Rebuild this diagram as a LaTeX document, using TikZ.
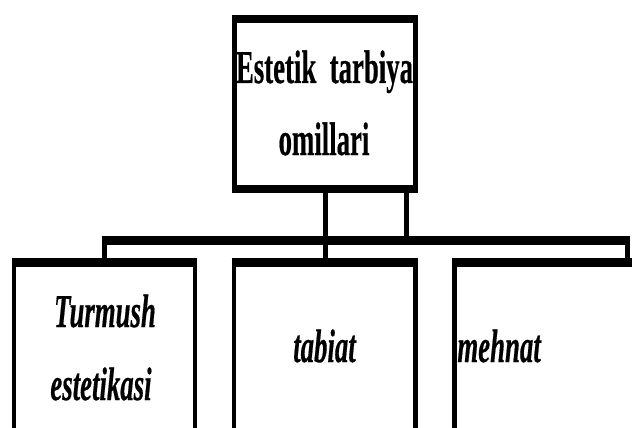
\documentclass[tikz,border=0pt]{standalone}
\usepackage{fontspec}
\setmainfont{Liberation Serif}
\newfontface\hvyface{Liberation Serif Bold}[FakeBold=0.6]
\newfontface\hvyiface{Liberation Serif Bold Italic}[FakeBold=0.6]
\tikzset{
  hline/.style={line width=8.6pt},
  vline/.style={line width=4.7pt},
  conn/.style={line width=5pt},
  bar/.style={line width=9pt},
  txt/.style={inner sep=0pt, anchor=base, font=\hvyface\fontsize{47}{56}\selectfont},
  itxt/.style={txt, font=\hvyiface\fontsize{47}{56}\selectfont},
}
\newcommand\sq[1]{\scalebox{0.57}[1]{#1}}
\newcommand\myframe[4]{%
  \draw[vline] (#1,#2) -- (#1,#4) (#3,#2) -- (#3,#4);
  \draw[hline] (#1-2.35,#2) -- (#3+2.35,#2) (#1-2.35,#4) -- (#3+2.35,#4);}
\begin{document}
\begin{tikzpicture}[x=1pt,y=-1pt]
\clip (0,0) rectangle (632,428);
\fill[white] (0,0) rectangle (632,428);
% texts
\node[txt] (t1) at (324.5,83) {\sq{Estetik\ \ tarbiya}};
\node[txt] (t2) at (324,155) {\sq{omillari}};
\node[itxt] (l1) at (105,327) {\sq{Turmush}};
\node[itxt] (l2) at (101,400) {\sq{estetikasi}};
\node[itxt] (m1) at (324.5,362) {\sq{tabiat}};
\node[itxt, anchor=base east] (r1) at (541,362) {\sq{mehnat}};
% box anchors
\coordinate (topB) at (325.5,193);
\coordinate (topB2) at (406.5,193);
\coordinate (barL) at (104,240.5);
\coordinate (barR) at (627,240.5);
\coordinate (leftT) at (104,258);
\coordinate (midT) at (325.5,258);
\coordinate (rightT) at (627,258);
% connectors
\draw[bar] (101.5,240.5) -- (629.5,240.5);
\draw[conn] (topB) -- (midT);
\draw[conn] (topB2) -- (topB2 |- barL);
\draw[conn] (barL) -- (leftT);
\draw[conn] (barR) -- (rightT);
% boxes
\myframe{234.3}{19}{415.8}{189}
\myframe{14}{262.5}{195}{450}
\myframe{234}{262.5}{415.5}{450}
\myframe{454.5}{262.5}{700}{450}
\end{tikzpicture}
\end{document}
